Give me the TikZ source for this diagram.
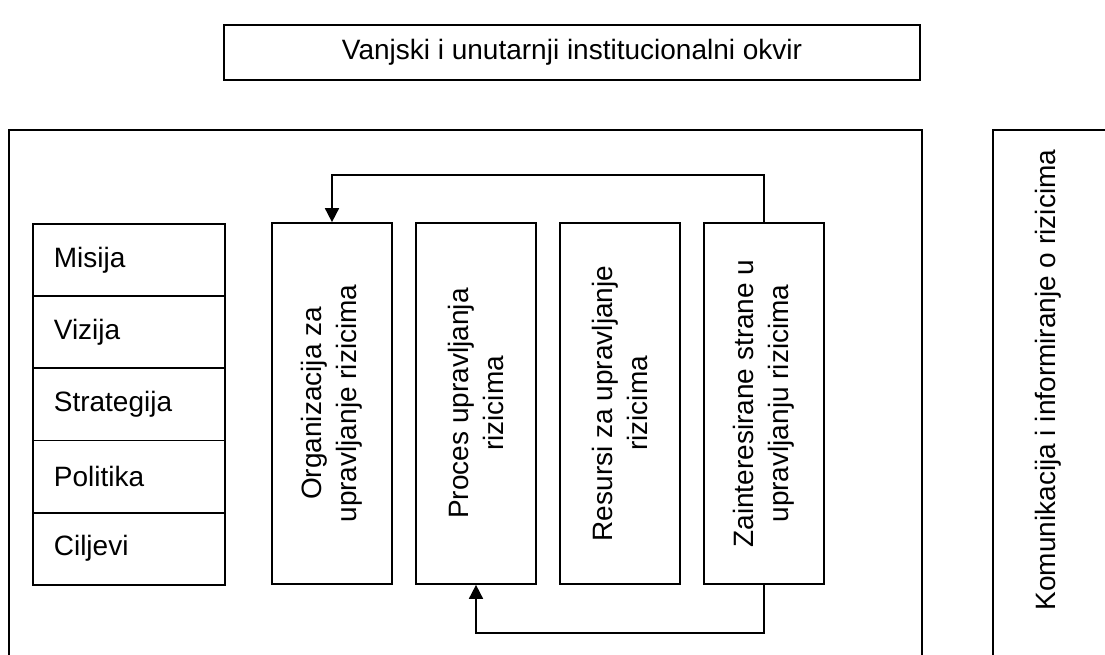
\documentclass[tikz,border=0pt]{standalone}
\usepackage{fontspec}
\setmainfont{Liberation Sans}
\usetikzlibrary{arrows.meta}
\begin{document}
\begin{tikzpicture}[x=1pt,y=-1pt,
  box/.style={draw,line width=1.7pt,rectangle,inner sep=0pt},
  lbl/.style={font=\fontsize{28}{35}\selectfont,align=center},
  rowbox/.style={box,font=\fontsize{28}{33}\selectfont,align=left,text width=150pt,inner xsep=21pt,minimum height=72.2pt,anchor=north west},
  colbox/.style={box,lbl,rotate=90,minimum width=361pt,minimum height=120pt},
  conn/.style={line width=1.7pt,-{Triangle[width=14pt,length=14pt]}}
]
\clip (0,0) rectangle (1105,655);
\fill[white] (0,0) rectangle (1105,655);
% title
\node[box,lbl,minimum width=696pt,minimum height=55pt] (title) at (572,52.5) {Vanjski i unutarnji institucionalni okvir};
% frames
\node[box,minimum width=913pt,minimum height=600pt,anchor=north west] (frame) at (8,129) {};
\node[box,minimum width=118pt,minimum height=600pt,anchor=north west] (kom) at (992,129) {};
\node[lbl,rotate=90] (komtxt) at (1048,380) {Komunikacija i informiranje o rizicima};
% list
\node[rowbox] (r1) at (32,223) {Misija};
\node[rowbox] (r2) at (32,295.2) {Vizija};
\node[rowbox] (r3) at (32,367.4) {Strategija};
\node[rowbox] (r4) at (32,439.6) {Politika};
\node[rowbox] (r5) at (32,511.8) {Ciljevi};
% columns (rotated: width/height swapped)
\node[colbox] (org) at (332,403.5) {Organizacija za\\upravljanje rizicima};
\node[colbox] (pro) at (476,403.5) {Proces upravljanja\\rizicima};
\node[colbox] (res) at (620,403.5) {Resursi za upravljanje\\rizicima};
\node[colbox] (zai) at (764,403.5) {Zainteresirane strane u\\upravljanju rizicima};
% connectors
\draw[conn] (zai.east) -- ++(0,-47) -| (org.east);
\draw[conn] (zai.west) -- ++(0,48) -| (pro.west);
\end{tikzpicture}
\end{document}
